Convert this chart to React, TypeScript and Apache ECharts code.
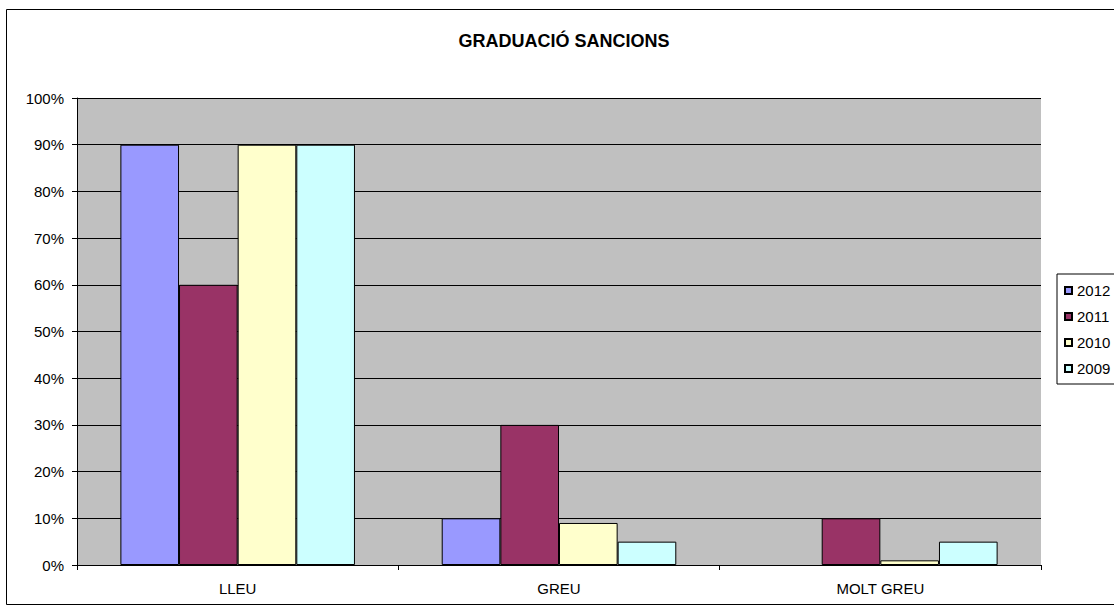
import React, { useEffect, useRef } from "react";
import * as echarts from "echarts";

const categories = ["LLEU", "GREU", "MOLT GREU"];
const seriesNames = ["2012", "2011", "2010", "2009"];
const values2012 = [90, 10, 0];
const values2011 = [60, 30, 10];
const values2010 = [90, 9, 1];
const values2009 = [90, 5, 5];
const colors = ["#9999FF", "#993366", "#FFFFCC", "#CCFFFF"];

export default function App() {
  const ref = useRef<HTMLDivElement>(null);
  useEffect(() => {
    const chart = echarts.init(ref.current!, null, { renderer: "svg" });
    const data = [values2012, values2011, values2010, values2009];
    chart.setOption({
      animation: false,
      textStyle: { fontFamily: "Liberation Sans, Arial, sans-serif" },
      title: {
        text: "GRADUACIÓ SANCIONS",
        left: 559,
        textAlign: "center",
        top: 27,
        textStyle: { fontSize: 18, fontWeight: "bold", color: "#000", fontFamily: "Liberation Sans, Arial, sans-serif" },
      },
      graphic: [
        {
          type: "rect",
          shape: { x: 6.5, y: 9.5, width: 1120, height: 595 },
          style: { fill: "none", stroke: "#000", lineWidth: 1 },
          silent: true,
        },
      ],
      legend: {
        orient: "vertical",
        left: 1057,
        top: 274,
        data: seriesNames,
        icon: "rect",
        itemWidth: 7,
        itemHeight: 7,
        itemGap: 11,
        padding: [9, 30, 8, 7],
        borderColor: "#000",
        borderWidth: 1,
        backgroundColor: "#fff",
        textStyle: { fontSize: 15, lineHeight: 15, color: "#000", padding: [0, 0, 0, 0] },
      },
      grid: {
        left: 77,
        top: 98,
        width: 964,
        height: 467,
        show: true,
        backgroundColor: "#C0C0C0",
        borderWidth: 0,
      },
      xAxis: {
        type: "category",
        data: categories,
        axisLine: { show: true, lineStyle: { color: "#000", width: 1 } },
        axisTick: { show: true, alignWithLabel: false, length: 5, lineStyle: { color: "#000" } },
        axisLabel: { color: "#000", fontSize: 15, margin: 16 },
      },
      yAxis: {
        type: "value",
        min: 0,
        max: 100,
        interval: 10,
        axisLine: { show: true, lineStyle: { color: "#000", width: 1 } },
        axisTick: { show: true, length: 5, lineStyle: { color: "#000" } },
        axisLabel: { color: "#000", fontSize: 15, formatter: "{value}%", margin: 13 },
        splitLine: { show: true, lineStyle: { color: "#000", width: 1 } },
      },
      series: seriesNames.map((name, i) => ({
        name,
        type: "bar",
        data: data[i].map((v) => (v === 0 ? null : v)),
        barGap: "0%",
        barCategoryGap: "27%",
        itemStyle: { color: colors[i], borderColor: "#000", borderWidth: 1 },
      })),
    });
    return () => chart.dispose();
  }, []);
  return (
    <div
      ref={ref}
      style={{ position: "absolute", left: 0, top: 0, width: 1114, height: 612 }}
    />
  );
}
